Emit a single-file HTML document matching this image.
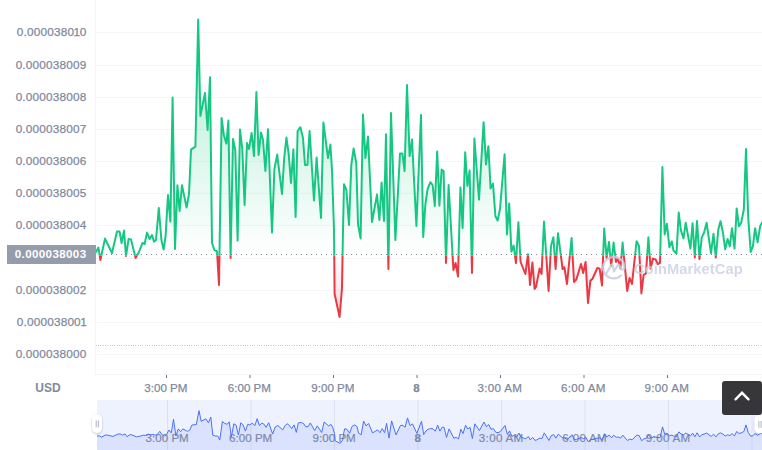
<!DOCTYPE html>
<html><head><meta charset="utf-8"><title>chart</title>
<style>
html,body{margin:0;padding:0;background:#fff;}
body{width:762px;height:450px;overflow:hidden;position:relative;font-family:"Liberation Sans",sans-serif;}
svg{position:absolute;left:0;top:0;}
.yl{position:absolute;right:675.6px;font-size:11.8px;letter-spacing:0.17px;color:#808a9d;-webkit-text-stroke:0.25px #808a9d;line-height:14px;height:14px;white-space:nowrap;}
.xl{position:absolute;font-size:11.6px;color:#808a9d;-webkit-text-stroke:0.25px #808a9d;line-height:14px;height:14px;width:80px;text-align:center;white-space:nowrap;}
.xl.b{font-weight:bold;}
.nl{position:absolute;font-size:11.6px;color:#848da0;-webkit-text-stroke:0.2px #848da0;line-height:14px;height:14px;width:80px;text-align:center;white-space:nowrap;}
#cur{position:absolute;left:7px;top:245px;width:89px;height:19px;background:#959cab;color:#fff;font-weight:bold;font-size:11.6px;line-height:17px;letter-spacing:0.37px;text-align:right;box-sizing:border-box;padding-right:9.5px;}
#usd{position:absolute;left:28px;width:40px;text-align:center;top:381px;font-size:12px;font-weight:bold;color:#808a9d;line-height:14px;}
#wm{position:absolute;left:634px;top:259.3px;font-size:14.7px;font-weight:bold;color:#c9d0e1;opacity:.8;line-height:20px;letter-spacing:0.08px;white-space:nowrap;}
#top{position:absolute;left:722px;top:381px;width:40px;height:34px;background:rgba(33,33,37,0.9);border-radius:3px;}
</style></head><body>

<svg width="762" height="450" viewBox="0 0 762 450">
<defs>
<linearGradient id="gg" x1="0" y1="18" x2="0" y2="254.5" gradientUnits="userSpaceOnUse"><stop offset="0" stop-color="#16c784" stop-opacity="0.36"/><stop offset="1" stop-color="#16c784" stop-opacity="0"/></linearGradient>
<linearGradient id="rg" x1="0" y1="254.5" x2="0" y2="320" gradientUnits="userSpaceOnUse"><stop offset="0" stop-color="#ea3943" stop-opacity="0"/><stop offset="1" stop-color="#ea3943" stop-opacity="0.22"/></linearGradient>
<clipPath id="up"><rect x="96" y="0" width="666" height="255.4"/></clipPath>
<clipPath id="dn"><rect x="96" y="255.4" width="666" height="120"/></clipPath>
<clipPath id="nv"><rect x="97" y="400" width="665" height="50"/></clipPath>
</defs>
<rect x="96" y="32" width="666" height="1" fill="#f5f6f9"/>
<rect x="96" y="65" width="666" height="1" fill="#f5f6f9"/>
<rect x="96" y="97" width="666" height="1" fill="#f5f6f9"/>
<rect x="96" y="129" width="666" height="1" fill="#f5f6f9"/>
<rect x="96" y="161" width="666" height="1" fill="#f5f6f9"/>
<rect x="96" y="193" width="666" height="1" fill="#f5f6f9"/>
<rect x="96" y="225" width="666" height="1" fill="#f5f6f9"/>
<rect x="96" y="258" width="666" height="1" fill="#f5f6f9"/>
<rect x="96" y="290" width="666" height="1" fill="#f5f6f9"/>
<rect x="96" y="322" width="666" height="1" fill="#f5f6f9"/>
<rect x="96" y="354" width="666" height="1" fill="#f5f6f9"/>
<rect x="95" y="0" width="1" height="375" fill="#f5f6f9"/>
<rect x="95" y="374" width="667" height="1" fill="#f5f6f9"/>
<rect x="166.0" y="375" width="1" height="3" fill="#6b7488"/>
<rect x="249.5" y="375" width="1" height="3" fill="#6b7488"/>
<rect x="333.0" y="375" width="1" height="3" fill="#6b7488"/>
<rect x="416.5" y="375" width="1" height="3" fill="#6b7488"/>
<rect x="500.0" y="375" width="1" height="3" fill="#6b7488"/>
<rect x="583.5" y="375" width="1" height="3" fill="#6b7488"/>
<rect x="667.0" y="375" width="1" height="3" fill="#6b7488"/>
<line x1="96" y1="345.5" x2="762" y2="345.5" stroke="#c4cbdf" stroke-width="1" stroke-dasharray="1 1 1 1 1 2"/>
<path d="M96.0 252.0 L98.4 247.6 L100.4 260.0 L105.0 238.6 L112.0 253.0 L117.0 231.6 L119.6 231.6 L121.6 243.0 L124.0 230.6 L126.0 256.0 L128.6 239.0 L131.0 239.4 L135.6 258.0 L139.0 252.0 L142.4 243.0 L144.6 244.0 L147.0 232.6 L149.6 239.0 L152.0 235.0 L154.0 241.6 L156.0 240.0 L158.8 208.0 L161.4 240.0 L163.6 249.6 L165.6 236.0 L168.0 195.0 L170.4 221.6 L172.6 97.6 L175.0 249.0 L177.4 185.2 L179.6 211.0 L182.0 185.2 L186.6 207.6 L189.0 194.0 L191.0 149.6 L195.4 146.6 L198.2 19.4 L200.4 116.0 L205.0 93.0 L207.6 130.0 L210.0 77.2 L212.0 243.0 L214.4 250.0 L216.0 251.0 L217.0 251.2 L219.0 285.0 L221.6 117.9 L223.9 135.5 L226.4 143.6 L228.4 120.6 L230.6 258.0 L233.0 139.0 L235.3 150.0 L237.6 240.6 L240.0 129.6 L242.3 149.0 L244.6 205.0 L247.0 143.0 L249.0 149.0 L251.6 133.0 L254.0 156.0 L256.4 92.0 L258.6 155.0 L261.0 132.6 L263.0 140.0 L265.4 171.0 L268.0 129.2 L272.0 232.4 L274.4 169.0 L277.2 154.6 L282.0 194.0 L284.2 158.0 L286.4 137.6 L288.7 154.0 L291.0 183.0 L293.4 149.2 L295.6 217.0 L297.6 131.0 L300.4 127.2 L303.0 138.0 L305.0 165.0 L307.4 165.0 L309.6 131.0 L314.0 200.4 L316.6 157.6 L321.0 218.0 L323.4 122.6 L328.0 158.0 L330.4 144.6 L332.0 170.0 L334.0 230.0 L334.6 294.0 L339.6 317.0 L342.0 288.0 L343.0 230.0 L344.0 184.2 L346.4 190.0 L349.0 225.0 L351.3 165.0 L353.6 148.6 L356.3 163.0 L358.0 224.0 L360.6 238.4 L363.0 114.6 L365.4 158.0 L368.0 136.6 L372.0 222.0 L377.0 194.6 L379.4 220.0 L381.6 182.6 L384.0 221.0 L386.0 134.2 L388.4 269.0 L391.0 113.0 L395.4 240.0 L400.0 153.6 L402.4 153.6 L404.6 171.0 L407.0 85.0 L409.6 156.0 L412.0 139.6 L416.4 226.0 L421.0 115.0 L423.2 237.0 L425.4 204.0 L427.6 189.0 L430.4 182.2 L432.6 185.0 L434.8 206.0 L437.2 151.6 L439.4 205.6 L441.6 169.6 L443.6 171.0 L446.0 263.0 L448.6 185.0 L453.4 270.0 L455.6 263.0 L458.0 276.4 L460.4 187.6 L462.6 228.0 L465.2 152.2 L467.4 186.0 L469.6 170.6 L472.0 273.0 L474.4 138.6 L479.0 199.6 L483.6 122.2 L486.0 164.4 L488.4 146.2 L490.6 188.4 L493.0 183.6 L495.4 216.0 L497.6 220.6 L500.0 209.0 L504.6 154.2 L507.0 234.4 L509.2 203.6 L511.4 251.6 L513.6 245.6 L516.0 263.0 L518.4 222.2 L520.6 262.0 L525.4 274.0 L528.0 254.2 L530.0 285.0 L532.4 262.6 L534.6 289.0 L536.0 287.0 L539.6 268.6 L541.6 274.0 L544.0 221.6 L548.6 291.0 L551.0 246.0 L553.4 237.2 L555.6 269.0 L558.0 233.2 L562.6 269.0 L564.4 267.2 L567.0 284.0 L571.6 238.0 L574.0 282.0 L576.4 279.4 L581.0 264.0 L583.2 273.0 L585.6 262.0 L588.0 303.0 L590.4 280.6 L592.4 279.0 L597.4 268.0 L599.6 268.6 L602.0 285.4 L604.2 228.6 L606.6 258.0 L609.0 242.0 L611.2 266.0 L613.6 242.6 L616.0 262.0 L618.0 258.6 L620.4 268.6 L622.6 242.6 L627.2 291.0 L629.6 278.0 L632.0 284.0 L636.6 241.2 L639.0 246.0 L641.4 293.4 L643.6 275.0 L646.0 273.4 L648.4 237.2 L650.6 268.6 L653.0 258.6 L655.6 259.4 L657.6 264.0 L660.0 263.0 L662.4 167.0 L664.7 234.4 L666.9 223.8 L669.4 247.2 L671.8 241.5 L673.5 250.6 L676.5 253.4 L678.7 212.5 L680.9 230.3 L683.5 238.4 L685.7 222.8 L690.4 248.6 L692.6 223.2 L694.8 257.5 L697.0 220.9 L699.5 258.9 L701.7 237.6 L704.1 232.5 L706.6 222.8 L711.0 253.0 L713.5 233.8 L715.8 257.5 L718.3 229.5 L720.5 221.3 L722.8 231.7 L725.2 249.4 L727.6 239.0 L729.8 246.4 L732.0 228.2 L734.5 248.6 L736.7 208.5 L738.9 226.2 L741.1 222.9 L743.8 209.7 L746.0 149.0 L748.2 217.0 L750.7 252.0 L752.9 246.4 L755.1 228.2 L757.6 242.3 L760.2 225.9 L763.0 221.0 L763.0 254.5 L96.0 254.5 Z" fill="url(#gg)" clip-path="url(#up)"/>
<path d="M96.0 252.0 L98.4 247.6 L100.4 260.0 L105.0 238.6 L112.0 253.0 L117.0 231.6 L119.6 231.6 L121.6 243.0 L124.0 230.6 L126.0 256.0 L128.6 239.0 L131.0 239.4 L135.6 258.0 L139.0 252.0 L142.4 243.0 L144.6 244.0 L147.0 232.6 L149.6 239.0 L152.0 235.0 L154.0 241.6 L156.0 240.0 L158.8 208.0 L161.4 240.0 L163.6 249.6 L165.6 236.0 L168.0 195.0 L170.4 221.6 L172.6 97.6 L175.0 249.0 L177.4 185.2 L179.6 211.0 L182.0 185.2 L186.6 207.6 L189.0 194.0 L191.0 149.6 L195.4 146.6 L198.2 19.4 L200.4 116.0 L205.0 93.0 L207.6 130.0 L210.0 77.2 L212.0 243.0 L214.4 250.0 L216.0 251.0 L217.0 251.2 L219.0 285.0 L221.6 117.9 L223.9 135.5 L226.4 143.6 L228.4 120.6 L230.6 258.0 L233.0 139.0 L235.3 150.0 L237.6 240.6 L240.0 129.6 L242.3 149.0 L244.6 205.0 L247.0 143.0 L249.0 149.0 L251.6 133.0 L254.0 156.0 L256.4 92.0 L258.6 155.0 L261.0 132.6 L263.0 140.0 L265.4 171.0 L268.0 129.2 L272.0 232.4 L274.4 169.0 L277.2 154.6 L282.0 194.0 L284.2 158.0 L286.4 137.6 L288.7 154.0 L291.0 183.0 L293.4 149.2 L295.6 217.0 L297.6 131.0 L300.4 127.2 L303.0 138.0 L305.0 165.0 L307.4 165.0 L309.6 131.0 L314.0 200.4 L316.6 157.6 L321.0 218.0 L323.4 122.6 L328.0 158.0 L330.4 144.6 L332.0 170.0 L334.0 230.0 L334.6 294.0 L339.6 317.0 L342.0 288.0 L343.0 230.0 L344.0 184.2 L346.4 190.0 L349.0 225.0 L351.3 165.0 L353.6 148.6 L356.3 163.0 L358.0 224.0 L360.6 238.4 L363.0 114.6 L365.4 158.0 L368.0 136.6 L372.0 222.0 L377.0 194.6 L379.4 220.0 L381.6 182.6 L384.0 221.0 L386.0 134.2 L388.4 269.0 L391.0 113.0 L395.4 240.0 L400.0 153.6 L402.4 153.6 L404.6 171.0 L407.0 85.0 L409.6 156.0 L412.0 139.6 L416.4 226.0 L421.0 115.0 L423.2 237.0 L425.4 204.0 L427.6 189.0 L430.4 182.2 L432.6 185.0 L434.8 206.0 L437.2 151.6 L439.4 205.6 L441.6 169.6 L443.6 171.0 L446.0 263.0 L448.6 185.0 L453.4 270.0 L455.6 263.0 L458.0 276.4 L460.4 187.6 L462.6 228.0 L465.2 152.2 L467.4 186.0 L469.6 170.6 L472.0 273.0 L474.4 138.6 L479.0 199.6 L483.6 122.2 L486.0 164.4 L488.4 146.2 L490.6 188.4 L493.0 183.6 L495.4 216.0 L497.6 220.6 L500.0 209.0 L504.6 154.2 L507.0 234.4 L509.2 203.6 L511.4 251.6 L513.6 245.6 L516.0 263.0 L518.4 222.2 L520.6 262.0 L525.4 274.0 L528.0 254.2 L530.0 285.0 L532.4 262.6 L534.6 289.0 L536.0 287.0 L539.6 268.6 L541.6 274.0 L544.0 221.6 L548.6 291.0 L551.0 246.0 L553.4 237.2 L555.6 269.0 L558.0 233.2 L562.6 269.0 L564.4 267.2 L567.0 284.0 L571.6 238.0 L574.0 282.0 L576.4 279.4 L581.0 264.0 L583.2 273.0 L585.6 262.0 L588.0 303.0 L590.4 280.6 L592.4 279.0 L597.4 268.0 L599.6 268.6 L602.0 285.4 L604.2 228.6 L606.6 258.0 L609.0 242.0 L611.2 266.0 L613.6 242.6 L616.0 262.0 L618.0 258.6 L620.4 268.6 L622.6 242.6 L627.2 291.0 L629.6 278.0 L632.0 284.0 L636.6 241.2 L639.0 246.0 L641.4 293.4 L643.6 275.0 L646.0 273.4 L648.4 237.2 L650.6 268.6 L653.0 258.6 L655.6 259.4 L657.6 264.0 L660.0 263.0 L662.4 167.0 L664.7 234.4 L666.9 223.8 L669.4 247.2 L671.8 241.5 L673.5 250.6 L676.5 253.4 L678.7 212.5 L680.9 230.3 L683.5 238.4 L685.7 222.8 L690.4 248.6 L692.6 223.2 L694.8 257.5 L697.0 220.9 L699.5 258.9 L701.7 237.6 L704.1 232.5 L706.6 222.8 L711.0 253.0 L713.5 233.8 L715.8 257.5 L718.3 229.5 L720.5 221.3 L722.8 231.7 L725.2 249.4 L727.6 239.0 L729.8 246.4 L732.0 228.2 L734.5 248.6 L736.7 208.5 L738.9 226.2 L741.1 222.9 L743.8 209.7 L746.0 149.0 L748.2 217.0 L750.7 252.0 L752.9 246.4 L755.1 228.2 L757.6 242.3 L760.2 225.9 L763.0 221.0 L763.0 254.5 L96.0 254.5 Z" fill="url(#rg)" clip-path="url(#dn)"/>
<line x1="101" y1="254.5" x2="762" y2="254.5" stroke="#7f889b" stroke-width="1" stroke-dasharray="1 4"/>
<path d="M96.0 252.0 L98.4 247.6 L100.4 260.0 L105.0 238.6 L112.0 253.0 L117.0 231.6 L119.6 231.6 L121.6 243.0 L124.0 230.6 L126.0 256.0 L128.6 239.0 L131.0 239.4 L135.6 258.0 L139.0 252.0 L142.4 243.0 L144.6 244.0 L147.0 232.6 L149.6 239.0 L152.0 235.0 L154.0 241.6 L156.0 240.0 L158.8 208.0 L161.4 240.0 L163.6 249.6 L165.6 236.0 L168.0 195.0 L170.4 221.6 L172.6 97.6 L175.0 249.0 L177.4 185.2 L179.6 211.0 L182.0 185.2 L186.6 207.6 L189.0 194.0 L191.0 149.6 L195.4 146.6 L198.2 19.4 L200.4 116.0 L205.0 93.0 L207.6 130.0 L210.0 77.2 L212.0 243.0 L214.4 250.0 L216.0 251.0 L217.0 251.2 L219.0 285.0 L221.6 117.9 L223.9 135.5 L226.4 143.6 L228.4 120.6 L230.6 258.0 L233.0 139.0 L235.3 150.0 L237.6 240.6 L240.0 129.6 L242.3 149.0 L244.6 205.0 L247.0 143.0 L249.0 149.0 L251.6 133.0 L254.0 156.0 L256.4 92.0 L258.6 155.0 L261.0 132.6 L263.0 140.0 L265.4 171.0 L268.0 129.2 L272.0 232.4 L274.4 169.0 L277.2 154.6 L282.0 194.0 L284.2 158.0 L286.4 137.6 L288.7 154.0 L291.0 183.0 L293.4 149.2 L295.6 217.0 L297.6 131.0 L300.4 127.2 L303.0 138.0 L305.0 165.0 L307.4 165.0 L309.6 131.0 L314.0 200.4 L316.6 157.6 L321.0 218.0 L323.4 122.6 L328.0 158.0 L330.4 144.6 L332.0 170.0 L334.0 230.0 L334.6 294.0 L339.6 317.0 L342.0 288.0 L343.0 230.0 L344.0 184.2 L346.4 190.0 L349.0 225.0 L351.3 165.0 L353.6 148.6 L356.3 163.0 L358.0 224.0 L360.6 238.4 L363.0 114.6 L365.4 158.0 L368.0 136.6 L372.0 222.0 L377.0 194.6 L379.4 220.0 L381.6 182.6 L384.0 221.0 L386.0 134.2 L388.4 269.0 L391.0 113.0 L395.4 240.0 L400.0 153.6 L402.4 153.6 L404.6 171.0 L407.0 85.0 L409.6 156.0 L412.0 139.6 L416.4 226.0 L421.0 115.0 L423.2 237.0 L425.4 204.0 L427.6 189.0 L430.4 182.2 L432.6 185.0 L434.8 206.0 L437.2 151.6 L439.4 205.6 L441.6 169.6 L443.6 171.0 L446.0 263.0 L448.6 185.0 L453.4 270.0 L455.6 263.0 L458.0 276.4 L460.4 187.6 L462.6 228.0 L465.2 152.2 L467.4 186.0 L469.6 170.6 L472.0 273.0 L474.4 138.6 L479.0 199.6 L483.6 122.2 L486.0 164.4 L488.4 146.2 L490.6 188.4 L493.0 183.6 L495.4 216.0 L497.6 220.6 L500.0 209.0 L504.6 154.2 L507.0 234.4 L509.2 203.6 L511.4 251.6 L513.6 245.6 L516.0 263.0 L518.4 222.2 L520.6 262.0 L525.4 274.0 L528.0 254.2 L530.0 285.0 L532.4 262.6 L534.6 289.0 L536.0 287.0 L539.6 268.6 L541.6 274.0 L544.0 221.6 L548.6 291.0 L551.0 246.0 L553.4 237.2 L555.6 269.0 L558.0 233.2 L562.6 269.0 L564.4 267.2 L567.0 284.0 L571.6 238.0 L574.0 282.0 L576.4 279.4 L581.0 264.0 L583.2 273.0 L585.6 262.0 L588.0 303.0 L590.4 280.6 L592.4 279.0 L597.4 268.0 L599.6 268.6 L602.0 285.4 L604.2 228.6 L606.6 258.0 L609.0 242.0 L611.2 266.0 L613.6 242.6 L616.0 262.0 L618.0 258.6 L620.4 268.6 L622.6 242.6 L627.2 291.0 L629.6 278.0 L632.0 284.0 L636.6 241.2 L639.0 246.0 L641.4 293.4 L643.6 275.0 L646.0 273.4 L648.4 237.2 L650.6 268.6 L653.0 258.6 L655.6 259.4 L657.6 264.0 L660.0 263.0 L662.4 167.0 L664.7 234.4 L666.9 223.8 L669.4 247.2 L671.8 241.5 L673.5 250.6 L676.5 253.4 L678.7 212.5 L680.9 230.3 L683.5 238.4 L685.7 222.8 L690.4 248.6 L692.6 223.2 L694.8 257.5 L697.0 220.9 L699.5 258.9 L701.7 237.6 L704.1 232.5 L706.6 222.8 L711.0 253.0 L713.5 233.8 L715.8 257.5 L718.3 229.5 L720.5 221.3 L722.8 231.7 L725.2 249.4 L727.6 239.0 L729.8 246.4 L732.0 228.2 L734.5 248.6 L736.7 208.5 L738.9 226.2 L741.1 222.9 L743.8 209.7 L746.0 149.0 L748.2 217.0 L750.7 252.0 L752.9 246.4 L755.1 228.2 L757.6 242.3 L760.2 225.9 L763.0 221.0" fill="none" stroke="#16c784" stroke-width="2" stroke-linejoin="round" stroke-linecap="round" clip-path="url(#up)"/>
<path d="M96.0 252.0 L98.4 247.6 L100.4 260.0 L105.0 238.6 L112.0 253.0 L117.0 231.6 L119.6 231.6 L121.6 243.0 L124.0 230.6 L126.0 256.0 L128.6 239.0 L131.0 239.4 L135.6 258.0 L139.0 252.0 L142.4 243.0 L144.6 244.0 L147.0 232.6 L149.6 239.0 L152.0 235.0 L154.0 241.6 L156.0 240.0 L158.8 208.0 L161.4 240.0 L163.6 249.6 L165.6 236.0 L168.0 195.0 L170.4 221.6 L172.6 97.6 L175.0 249.0 L177.4 185.2 L179.6 211.0 L182.0 185.2 L186.6 207.6 L189.0 194.0 L191.0 149.6 L195.4 146.6 L198.2 19.4 L200.4 116.0 L205.0 93.0 L207.6 130.0 L210.0 77.2 L212.0 243.0 L214.4 250.0 L216.0 251.0 L217.0 251.2 L219.0 285.0 L221.6 117.9 L223.9 135.5 L226.4 143.6 L228.4 120.6 L230.6 258.0 L233.0 139.0 L235.3 150.0 L237.6 240.6 L240.0 129.6 L242.3 149.0 L244.6 205.0 L247.0 143.0 L249.0 149.0 L251.6 133.0 L254.0 156.0 L256.4 92.0 L258.6 155.0 L261.0 132.6 L263.0 140.0 L265.4 171.0 L268.0 129.2 L272.0 232.4 L274.4 169.0 L277.2 154.6 L282.0 194.0 L284.2 158.0 L286.4 137.6 L288.7 154.0 L291.0 183.0 L293.4 149.2 L295.6 217.0 L297.6 131.0 L300.4 127.2 L303.0 138.0 L305.0 165.0 L307.4 165.0 L309.6 131.0 L314.0 200.4 L316.6 157.6 L321.0 218.0 L323.4 122.6 L328.0 158.0 L330.4 144.6 L332.0 170.0 L334.0 230.0 L334.6 294.0 L339.6 317.0 L342.0 288.0 L343.0 230.0 L344.0 184.2 L346.4 190.0 L349.0 225.0 L351.3 165.0 L353.6 148.6 L356.3 163.0 L358.0 224.0 L360.6 238.4 L363.0 114.6 L365.4 158.0 L368.0 136.6 L372.0 222.0 L377.0 194.6 L379.4 220.0 L381.6 182.6 L384.0 221.0 L386.0 134.2 L388.4 269.0 L391.0 113.0 L395.4 240.0 L400.0 153.6 L402.4 153.6 L404.6 171.0 L407.0 85.0 L409.6 156.0 L412.0 139.6 L416.4 226.0 L421.0 115.0 L423.2 237.0 L425.4 204.0 L427.6 189.0 L430.4 182.2 L432.6 185.0 L434.8 206.0 L437.2 151.6 L439.4 205.6 L441.6 169.6 L443.6 171.0 L446.0 263.0 L448.6 185.0 L453.4 270.0 L455.6 263.0 L458.0 276.4 L460.4 187.6 L462.6 228.0 L465.2 152.2 L467.4 186.0 L469.6 170.6 L472.0 273.0 L474.4 138.6 L479.0 199.6 L483.6 122.2 L486.0 164.4 L488.4 146.2 L490.6 188.4 L493.0 183.6 L495.4 216.0 L497.6 220.6 L500.0 209.0 L504.6 154.2 L507.0 234.4 L509.2 203.6 L511.4 251.6 L513.6 245.6 L516.0 263.0 L518.4 222.2 L520.6 262.0 L525.4 274.0 L528.0 254.2 L530.0 285.0 L532.4 262.6 L534.6 289.0 L536.0 287.0 L539.6 268.6 L541.6 274.0 L544.0 221.6 L548.6 291.0 L551.0 246.0 L553.4 237.2 L555.6 269.0 L558.0 233.2 L562.6 269.0 L564.4 267.2 L567.0 284.0 L571.6 238.0 L574.0 282.0 L576.4 279.4 L581.0 264.0 L583.2 273.0 L585.6 262.0 L588.0 303.0 L590.4 280.6 L592.4 279.0 L597.4 268.0 L599.6 268.6 L602.0 285.4 L604.2 228.6 L606.6 258.0 L609.0 242.0 L611.2 266.0 L613.6 242.6 L616.0 262.0 L618.0 258.6 L620.4 268.6 L622.6 242.6 L627.2 291.0 L629.6 278.0 L632.0 284.0 L636.6 241.2 L639.0 246.0 L641.4 293.4 L643.6 275.0 L646.0 273.4 L648.4 237.2 L650.6 268.6 L653.0 258.6 L655.6 259.4 L657.6 264.0 L660.0 263.0 L662.4 167.0 L664.7 234.4 L666.9 223.8 L669.4 247.2 L671.8 241.5 L673.5 250.6 L676.5 253.4 L678.7 212.5 L680.9 230.3 L683.5 238.4 L685.7 222.8 L690.4 248.6 L692.6 223.2 L694.8 257.5 L697.0 220.9 L699.5 258.9 L701.7 237.6 L704.1 232.5 L706.6 222.8 L711.0 253.0 L713.5 233.8 L715.8 257.5 L718.3 229.5 L720.5 221.3 L722.8 231.7 L725.2 249.4 L727.6 239.0 L729.8 246.4 L732.0 228.2 L734.5 248.6 L736.7 208.5 L738.9 226.2 L741.1 222.9 L743.8 209.7 L746.0 149.0 L748.2 217.0 L750.7 252.0 L752.9 246.4 L755.1 228.2 L757.6 242.3 L760.2 225.9 L763.0 221.0" fill="none" stroke="#ea3943" stroke-width="2" stroke-linejoin="round" stroke-linecap="round" clip-path="url(#dn)"/>
<rect x="97" y="400" width="665" height="50" fill="#eef1fe"/>
</svg>
<div class="yl" style="top:24.7px">0.0000380<span style="margin:0 -0.5px 0 -0.7px">1</span>0</div>
<div class="yl" style="top:57.7px">0.000038009</div>
<div class="yl" style="top:89.7px">0.000038008</div>
<div class="yl" style="top:121.7px">0.000038007</div>
<div class="yl" style="top:153.7px">0.000038006</div>
<div class="yl" style="top:185.7px">0.000038005</div>
<div class="yl" style="top:217.7px">0.000038004</div>
<div class="yl" style="top:282.7px">0.000038002</div>
<div class="yl" style="top:314.7px">0.00003800<span style="margin:0 -0.5px 0 -0.7px">1</span></div>
<div class="yl" style="top:346.7px">0.000038000</div>
<div id="cur">0.000038003</div>
<div id="usd">USD</div>
<div class="xl" style="left:125.9px;top:381px;">3:00 PM</div>
<div class="xl" style="left:209.4px;top:381px;">6:00 PM</div>
<div class="xl" style="left:292.9px;top:381px;">9:00 PM</div>
<div class="xl b" style="left:376.4px;top:381px;">8</div>
<div class="xl" style="left:459.9px;top:381px;letter-spacing:0.32px;">3:00 AM</div>
<div class="xl" style="left:543.4px;top:381px;letter-spacing:0.32px;">6:00 AM</div>
<div class="xl" style="left:626.9px;top:381px;letter-spacing:0.32px;">9:00 AM</div>
<div class="nl" style="left:127.2px;top:431px;">3:00 PM</div>
<div class="nl" style="left:210.7px;top:431px;">6:00 PM</div>
<div class="nl" style="left:294.2px;top:431px;">9:00 PM</div>
<div class="nl" style="left:377.7px;top:431px;font-weight:bold;">8</div>
<div class="nl" style="left:461.2px;top:431px;letter-spacing:0.3px;">3:00 AM</div>
<div class="nl" style="left:544.7px;top:431px;letter-spacing:0.3px;">6:00 AM</div>
<div class="nl" style="left:628.2px;top:431px;letter-spacing:0.3px;">9:00 AM</div>
<svg width="762" height="450" viewBox="0 0 762 450"><defs><clipPath id="nv2"><rect x="97" y="400" width="665" height="50"/></clipPath></defs>
<g clip-path="url(#nv2)"><path d="M97.0 436.2 L99.4 435.8 L101.4 437.1 L106.0 434.8 L113.0 436.4 L118.0 434.0 L120.6 434.0 L122.6 435.2 L125.0 433.9 L127.0 436.7 L129.6 434.8 L131.9 434.9 L136.5 436.9 L139.9 436.2 L143.3 435.2 L145.5 435.4 L147.9 434.1 L150.5 434.8 L152.9 434.4 L154.9 435.1 L156.9 434.9 L159.7 431.4 L162.3 434.9 L164.5 436.0 L166.5 434.5 L168.9 430.0 L171.3 432.9 L173.5 419.3 L175.9 435.9 L178.3 428.9 L180.5 431.7 L182.9 428.9 L187.5 431.4 L189.9 429.9 L191.9 425.0 L196.3 424.6 L199.0 410.7 L201.2 421.3 L205.8 418.8 L208.4 422.8 L210.8 417.0 L212.8 435.2 L215.2 436.0 L216.8 436.1 L217.8 436.2 L219.8 439.9 L222.4 421.5 L224.7 423.4 L227.2 424.3 L229.2 421.8 L231.4 436.9 L233.8 423.8 L236.1 425.0 L238.4 435.0 L240.8 422.8 L243.1 424.9 L245.4 431.1 L247.8 424.2 L249.8 424.9 L252.4 423.1 L254.8 425.7 L257.2 418.6 L259.4 425.6 L261.8 423.1 L263.7 423.9 L266.1 427.3 L268.7 422.7 L272.7 434.1 L275.1 427.1 L277.9 425.5 L282.7 429.9 L284.9 425.9 L287.1 423.7 L289.4 425.5 L291.7 428.6 L294.1 424.9 L296.3 432.4 L298.3 422.9 L301.1 422.5 L303.7 423.7 L305.7 426.7 L308.1 426.7 L310.3 422.9 L314.7 430.6 L317.3 425.9 L321.7 432.5 L324.1 422.0 L328.7 425.9 L331.0 424.4 L332.6 427.2 L334.6 433.8 L335.2 440.9 L340.2 443.4 L342.6 440.2 L343.6 433.8 L344.6 428.8 L347.0 429.4 L349.6 433.3 L351.9 426.7 L354.2 424.9 L356.9 426.4 L358.6 433.2 L361.2 434.7 L363.6 421.1 L366.0 425.9 L368.6 423.5 L372.6 432.9 L377.6 429.9 L380.0 432.7 L382.2 428.6 L384.6 432.8 L386.6 423.3 L389.0 438.1 L391.6 420.9 L396.0 434.9 L400.5 425.4 L402.9 425.4 L405.1 427.3 L407.5 417.9 L410.1 425.7 L412.5 423.9 L416.9 433.4 L421.5 421.2 L423.7 434.6 L425.9 431.0 L428.1 429.3 L430.9 428.6 L433.1 428.9 L435.3 431.2 L437.7 425.2 L439.9 431.1 L442.1 427.2 L444.1 427.3 L446.5 437.4 L449.1 428.9 L453.9 438.2 L456.1 437.4 L458.5 438.9 L460.9 429.2 L463.0 433.6 L465.6 425.3 L467.8 429.0 L470.0 427.3 L472.4 438.6 L474.8 423.8 L479.4 430.5 L484.0 422.0 L486.4 426.6 L488.8 424.6 L491.0 429.2 L493.4 428.7 L495.8 432.3 L498.0 432.8 L500.4 431.5 L505.0 425.5 L507.4 434.3 L509.6 430.9 L511.8 436.2 L514.0 435.5 L516.4 437.4 L518.8 433.0 L521.0 437.3 L525.8 438.7 L528.4 436.5 L530.3 439.9 L532.7 437.4 L534.9 440.3 L536.3 440.1 L539.9 438.1 L541.9 438.7 L544.3 432.9 L548.9 440.5 L551.3 435.6 L553.7 434.6 L555.9 438.1 L558.3 434.2 L562.9 438.1 L564.7 437.9 L567.3 439.8 L571.9 434.7 L574.3 439.5 L576.7 439.3 L581.3 437.6 L583.5 438.6 L585.9 437.3 L588.3 441.9 L590.7 439.4 L592.7 439.2 L597.6 438.0 L599.8 438.1 L602.2 439.9 L604.4 433.7 L606.8 436.9 L609.2 435.1 L611.4 437.8 L613.8 435.2 L616.2 437.3 L618.2 437.0 L620.6 438.1 L622.8 435.2 L627.4 440.5 L629.8 439.1 L632.2 439.8 L636.8 435.1 L639.2 435.6 L641.6 440.8 L643.8 438.8 L646.2 438.6 L648.6 434.6 L650.8 438.1 L653.2 437.0 L655.8 437.1 L657.8 437.6 L660.2 437.4 L662.5 426.9 L664.8 434.3 L667.0 433.1 L669.5 435.7 L671.9 435.1 L673.6 436.1 L676.6 436.4 L678.8 431.9 L681.0 433.9 L683.6 434.7 L685.8 433.0 L690.5 435.9 L692.7 433.1 L694.9 436.8 L697.1 432.8 L699.6 437.0 L701.8 434.7 L704.2 434.1 L706.7 433.0 L711.1 436.4 L713.6 434.2 L715.9 436.8 L718.4 433.8 L720.6 432.9 L722.8 434.0 L725.3 436.0 L727.7 434.8 L729.8 435.6 L732.0 433.6 L734.5 435.9 L736.7 431.5 L738.9 433.4 L741.1 433.0 L743.8 431.6 L746.0 424.9 L748.2 432.4 L750.7 436.2 L752.9 435.6 L755.1 433.6 L757.6 435.2 L760.2 433.4 L763.0 432.8 L763.0 450 L97.0 450 Z" fill="#3861fb" fill-opacity="0.1"/>
<rect x="167.0" y="400" width="1" height="50" fill="#8090c0" fill-opacity="0.17"/>
<rect x="250.5" y="400" width="1" height="50" fill="#8090c0" fill-opacity="0.17"/>
<rect x="334.0" y="400" width="1" height="50" fill="#8090c0" fill-opacity="0.17"/>
<rect x="417.5" y="400" width="1" height="50" fill="#8090c0" fill-opacity="0.17"/>
<rect x="501.0" y="400" width="1" height="50" fill="#8090c0" fill-opacity="0.17"/>
<rect x="584.5" y="400" width="1" height="50" fill="#8090c0" fill-opacity="0.17"/>
<rect x="668.0" y="400" width="1" height="50" fill="#8090c0" fill-opacity="0.17"/>
<rect x="751.5" y="400" width="1" height="50" fill="#8090c0" fill-opacity="0.17"/>
<path d="M97.0 436.2 L99.4 435.8 L101.4 437.1 L106.0 434.8 L113.0 436.4 L118.0 434.0 L120.6 434.0 L122.6 435.2 L125.0 433.9 L127.0 436.7 L129.6 434.8 L131.9 434.9 L136.5 436.9 L139.9 436.2 L143.3 435.2 L145.5 435.4 L147.9 434.1 L150.5 434.8 L152.9 434.4 L154.9 435.1 L156.9 434.9 L159.7 431.4 L162.3 434.9 L164.5 436.0 L166.5 434.5 L168.9 430.0 L171.3 432.9 L173.5 419.3 L175.9 435.9 L178.3 428.9 L180.5 431.7 L182.9 428.9 L187.5 431.4 L189.9 429.9 L191.9 425.0 L196.3 424.6 L199.0 410.7 L201.2 421.3 L205.8 418.8 L208.4 422.8 L210.8 417.0 L212.8 435.2 L215.2 436.0 L216.8 436.1 L217.8 436.2 L219.8 439.9 L222.4 421.5 L224.7 423.4 L227.2 424.3 L229.2 421.8 L231.4 436.9 L233.8 423.8 L236.1 425.0 L238.4 435.0 L240.8 422.8 L243.1 424.9 L245.4 431.1 L247.8 424.2 L249.8 424.9 L252.4 423.1 L254.8 425.7 L257.2 418.6 L259.4 425.6 L261.8 423.1 L263.7 423.9 L266.1 427.3 L268.7 422.7 L272.7 434.1 L275.1 427.1 L277.9 425.5 L282.7 429.9 L284.9 425.9 L287.1 423.7 L289.4 425.5 L291.7 428.6 L294.1 424.9 L296.3 432.4 L298.3 422.9 L301.1 422.5 L303.7 423.7 L305.7 426.7 L308.1 426.7 L310.3 422.9 L314.7 430.6 L317.3 425.9 L321.7 432.5 L324.1 422.0 L328.7 425.9 L331.0 424.4 L332.6 427.2 L334.6 433.8 L335.2 440.9 L340.2 443.4 L342.6 440.2 L343.6 433.8 L344.6 428.8 L347.0 429.4 L349.6 433.3 L351.9 426.7 L354.2 424.9 L356.9 426.4 L358.6 433.2 L361.2 434.7 L363.6 421.1 L366.0 425.9 L368.6 423.5 L372.6 432.9 L377.6 429.9 L380.0 432.7 L382.2 428.6 L384.6 432.8 L386.6 423.3 L389.0 438.1 L391.6 420.9 L396.0 434.9 L400.5 425.4 L402.9 425.4 L405.1 427.3 L407.5 417.9 L410.1 425.7 L412.5 423.9 L416.9 433.4 L421.5 421.2 L423.7 434.6 L425.9 431.0 L428.1 429.3 L430.9 428.6 L433.1 428.9 L435.3 431.2 L437.7 425.2 L439.9 431.1 L442.1 427.2 L444.1 427.3 L446.5 437.4 L449.1 428.9 L453.9 438.2 L456.1 437.4 L458.5 438.9 L460.9 429.2 L463.0 433.6 L465.6 425.3 L467.8 429.0 L470.0 427.3 L472.4 438.6 L474.8 423.8 L479.4 430.5 L484.0 422.0 L486.4 426.6 L488.8 424.6 L491.0 429.2 L493.4 428.7 L495.8 432.3 L498.0 432.8 L500.4 431.5 L505.0 425.5 L507.4 434.3 L509.6 430.9 L511.8 436.2 L514.0 435.5 L516.4 437.4 L518.8 433.0 L521.0 437.3 L525.8 438.7 L528.4 436.5 L530.3 439.9 L532.7 437.4 L534.9 440.3 L536.3 440.1 L539.9 438.1 L541.9 438.7 L544.3 432.9 L548.9 440.5 L551.3 435.6 L553.7 434.6 L555.9 438.1 L558.3 434.2 L562.9 438.1 L564.7 437.9 L567.3 439.8 L571.9 434.7 L574.3 439.5 L576.7 439.3 L581.3 437.6 L583.5 438.6 L585.9 437.3 L588.3 441.9 L590.7 439.4 L592.7 439.2 L597.6 438.0 L599.8 438.1 L602.2 439.9 L604.4 433.7 L606.8 436.9 L609.2 435.1 L611.4 437.8 L613.8 435.2 L616.2 437.3 L618.2 437.0 L620.6 438.1 L622.8 435.2 L627.4 440.5 L629.8 439.1 L632.2 439.8 L636.8 435.1 L639.2 435.6 L641.6 440.8 L643.8 438.8 L646.2 438.6 L648.6 434.6 L650.8 438.1 L653.2 437.0 L655.8 437.1 L657.8 437.6 L660.2 437.4 L662.5 426.9 L664.8 434.3 L667.0 433.1 L669.5 435.7 L671.9 435.1 L673.6 436.1 L676.6 436.4 L678.8 431.9 L681.0 433.9 L683.6 434.7 L685.8 433.0 L690.5 435.9 L692.7 433.1 L694.9 436.8 L697.1 432.8 L699.6 437.0 L701.8 434.7 L704.2 434.1 L706.7 433.0 L711.1 436.4 L713.6 434.2 L715.9 436.8 L718.4 433.8 L720.6 432.9 L722.8 434.0 L725.3 436.0 L727.7 434.8 L729.8 435.6 L732.0 433.6 L734.5 435.9 L736.7 431.5 L738.9 433.4 L741.1 433.0 L743.8 431.6 L746.0 424.9 L748.2 432.4 L750.7 436.2 L752.9 435.6 L755.1 433.6 L757.6 435.2 L760.2 433.4 L763.0 432.8" fill="none" stroke="#4c72f5" stroke-width="1" stroke-linejoin="round"/></g></svg>
<svg width="762" height="450" viewBox="0 0 762 450" style="pointer-events:none"><g opacity="0.85" fill="none" stroke="#c6cee0" stroke-width="2.2" stroke-linecap="round" stroke-linejoin="round"><path d="M624.5 267.2 A10.7 10.7 0 1 0 621 275.6"/><path d="M605.7 274.4 L611.1 265.5 Q612.2 263.7 612.8 265.7 L614 271.4 L617.6 265.5 Q618.8 263.6 619.6 265.6 L620.8 268.6 Q622.1 270.7 624.4 268.5"/></g></svg>
<div id="wm">CoinMarketCap</div>
<svg width="762" height="450" viewBox="0 0 762 450"><defs><filter id="sh" x="-50%" y="-50%" width="200%" height="200%"><feDropShadow dx="0" dy="1" stdDeviation="1.2" flood-color="#556" flood-opacity="0.35"/></filter></defs>
<rect x="92" y="414.5" width="10" height="18.5" rx="5" fill="#fff" filter="url(#sh)"/><path d="M96.2 420.5v6.8M98.4 420.5v6.8" stroke="#a0a8ba" stroke-width="0.9"/>
<rect x="754.5" y="415" width="10" height="18.5" rx="5" fill="#fff" filter="url(#sh)"/><path d="M758.9 421v6.8M761.1 421v6.8" stroke="#a0a8ba" stroke-width="0.9"/>
</svg>
<div id="top"><svg width="40" height="34" viewBox="0 0 40 34"><path d="M13.5 18.3 L20 11.8 L26.5 18.3" fill="none" stroke="#fff" stroke-width="2.4" stroke-linecap="round" stroke-linejoin="miter"/></svg></div>
</body></html>
